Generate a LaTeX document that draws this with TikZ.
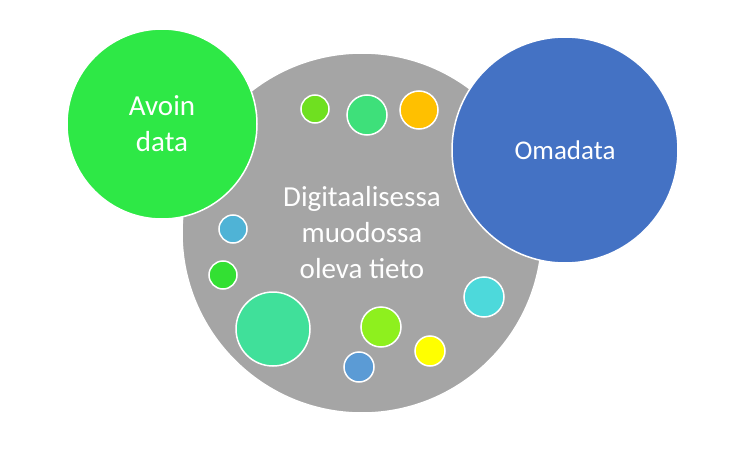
\documentclass[tikz,border=0pt]{standalone}
\usepackage{fontspec}
\setmainfont{Carlito}
\begin{document}
\begin{tikzpicture}[x=1pt,y=-1pt,
  bub/.style={draw=white,line width=1.5pt,circle,minimum size=#1,inner sep=0pt},
  lbl/.style={text=white,font=\fontsize{29}{36}\selectfont,align=center}]
\useasboundingbox (0,0) rectangle (748,455);
\node[bub=360pt,fill={rgb,255:red,165;green,165;blue,165}] (main) at (362,233) {};
\node[bub=190pt,fill={rgb,255:red,46;green,232;blue,70}] (avoin) at (162,124) {};
\node[bub=226pt,fill={rgb,255:red,68;green,114;blue,196}] (oma) at (565,150) {};
\node[lbl] at (avoin) {Avoin\\data};
\node[lbl,font=\fontsize{27}{34}\selectfont] at (oma) {Omadata};
\node[bub=28pt,fill={rgb,255:red,111;green,224;blue,32}] (s1) at (315,109) {};
\node[bub=40pt,fill={rgb,255:red,62;green,224;blue,122}] (s2) at (367,115) {};
\node[bub=38pt,fill={rgb,255:red,255;green,192;blue,0}] (s3) at (419,110) {};
\node[bub=28pt,fill={rgb,255:red,79;green,179;blue,214}] (s4) at (233,229) {};
\node[bub=28pt,fill={rgb,255:red,51;green,224;blue,51}] (s5) at (223,275) {};
\node[bub=40pt,fill={rgb,255:red,77;green,217;blue,219}] (s6) at (484,297) {};
\node[bub=74pt,fill={rgb,255:red,64;green,224;blue,154}] (s7) at (273,329) {};
\node[bub=40pt,fill={rgb,255:red,142;green,240;blue,30}] (s8) at (381,327) {};
\node[bub=30pt,fill={rgb,255:red,255;green,255;blue,0}] (s9) at (430,351) {};
\node[bub=30pt,fill={rgb,255:red,91;green,155;blue,213}] (s10) at (359,367) {};
\node[lbl] (t) at (362,233) {Digitaalisessa\\muodossa\\oleva tieto};
\end{tikzpicture}
\end{document}
